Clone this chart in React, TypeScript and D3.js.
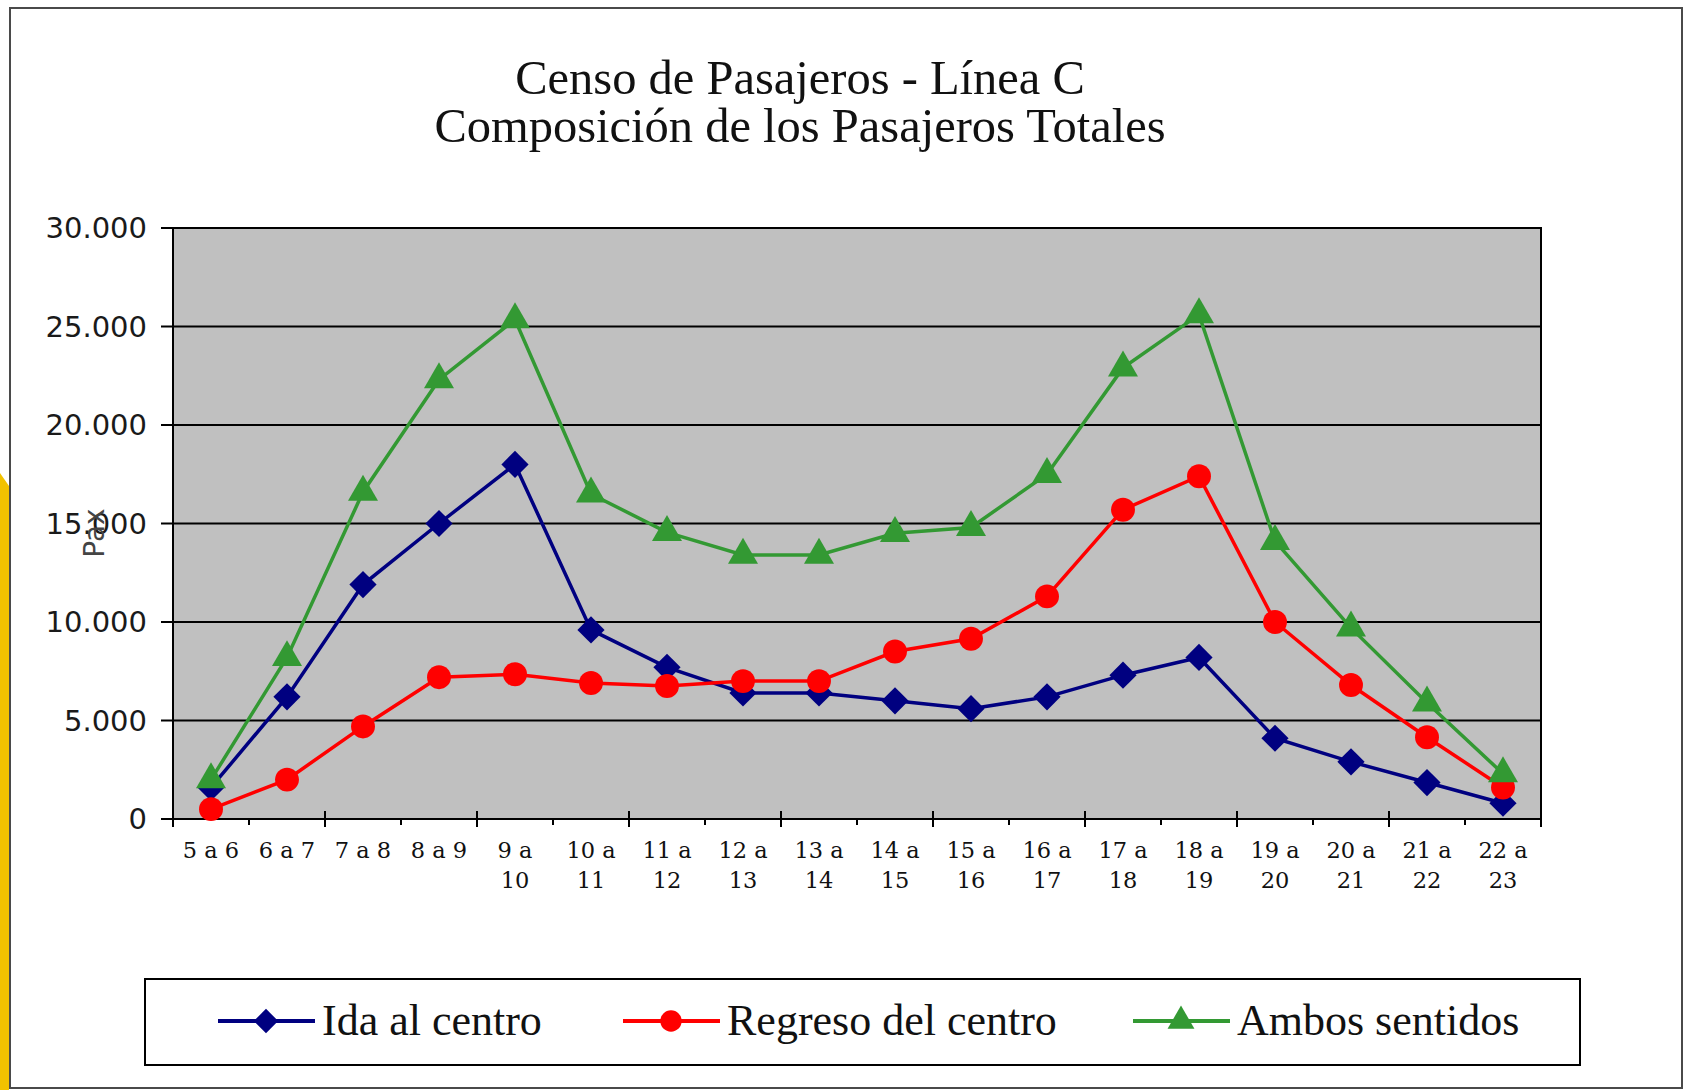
import { useRef, useEffect } from 'react'
import * as d3 from 'd3'

const titleLines = ['Censo de Pasajeros - Línea C', 'Composición de los Pasajeros Totales']

const categories = [
  '5 a 6', '6 a 7', '7 a 8', '8 a 9', '9 a 10', '10 a 11', '11 a 12', '12 a 13', '13 a 14',
  '14 a 15', '15 a 16', '16 a 17', '17 a 18', '18 a 19', '19 a 20', '20 a 21', '21 a 22', '22 a 23',
]

const idaAlCentro = [1600, 6200, 11900, 15000, 18000, 9600, 7700, 6400, 6400, 6000, 5600, 6200, 7300, 8200, 4100, 2900, 1850, 800]
const regresoDelCentro = [500, 2000, 4700, 7200, 7350, 6900, 6750, 7000, 7000, 8500, 9150, 11300, 15700, 17400, 10000, 6800, 4150, 1600]
const ambosSentidos = [2000, 8200, 16600, 22300, 25350, 16500, 14550, 13400, 13400, 14500, 14800, 17500, 22900, 25600, 14100, 9700, 5900, 2300]

const yTicks = [0, 5000, 10000, 15000, 20000, 25000, 30000]
const yLabel = 'Pax'

const series = [
  { name: 'Ida al centro', values: idaAlCentro, color: '#000080', symbol: d3.symbolSquare, size: 370, rotate: 45 },
  { name: 'Regreso del centro', values: regresoDelCentro, color: '#FF0000', symbol: d3.symbolCircle, size: 450, rotate: 0 },
  { name: 'Ambos sentidos', values: ambosSentidos, color: '#339933', symbol: d3.symbolTriangle, size: 390, rotate: 0 },
]

const W = 1684
const H = 1090
const plot = { left: 173, right: 1541, top: 228, bottom: 819 }

const fmt = d3.formatLocale({ decimal: ',', thousands: '.', grouping: [3], currency: ['', ''] }).format(',')

export default function App() {
  const svgRef = useRef(null)

  useEffect(() => {
    const svg = d3.select(svgRef.current)
    svg.selectAll('*').remove()

    // page frame + yellow strip on the left
    svg.append('rect').attr('width', W).attr('height', H).attr('fill', '#fff')
    svg.append('path').attr('d', `M0,473 L9,486 L9,${H} L0,${H} Z`).attr('fill', '#F2C200')
    svg.append('rect')
      .attr('x', 10).attr('y', 8).attr('width', 1672).attr('height', 1080)
      .attr('fill', 'none').attr('stroke', '#4a4a4a').attr('stroke-width', 2)

    // title
    svg.append('g')
      .selectAll('text')
      .data(titleLines)
      .join('text')
      .attr('x', 800)
      .attr('y', (_, i) => 94 + i * 48)
      .attr('text-anchor', 'middle')
      .attr('font-family', '"Liberation Serif", serif')
      .attr('font-size', 48.5)
      .attr('fill', '#111')
      .text((d) => d)

    const x = d3.scaleBand().domain(categories).range([plot.left, plot.right])
    const y = d3.scaleLinear().domain([0, 30000]).range([plot.bottom, plot.top])
    const cx = (c) => x(c) + x.bandwidth() / 2

    // plot background
    svg.append('rect')
      .attr('x', plot.left).attr('y', plot.top)
      .attr('width', plot.right - plot.left).attr('height', plot.bottom - plot.top)
      .attr('fill', '#C0C0C0')

    // gridlines + y ticks
    svg.append('g')
      .selectAll('line')
      .data(yTicks)
      .join('line')
      .attr('x1', plot.left - 12).attr('x2', plot.right)
      .attr('y1', (d) => y(d)).attr('y2', (d) => y(d))
      .attr('stroke', '#000').attr('stroke-width', 2)

    svg.append('g')
      .selectAll('text')
      .data(yTicks)
      .join('text')
      .attr('x', plot.left - 26)
      .attr('y', (d) => y(d) + 10)
      .attr('text-anchor', 'end')
      .attr('font-family', '"DejaVu Sans", sans-serif')
      .attr('font-size', 29)
      .attr('fill', '#1a1a1a')
      .text((d) => fmt(d))

    svg.append('text')
      .attr('transform', 'translate(104,533) rotate(-90)')
      .attr('text-anchor', 'middle')
      .attr('font-family', '"DejaVu Sans", sans-serif')
      .attr('font-size', 28)
      .attr('fill', '#444')
      .text(yLabel)

    // plot border
    svg.append('rect')
      .attr('x', plot.left).attr('y', plot.top)
      .attr('width', plot.right - plot.left).attr('height', plot.bottom - plot.top)
      .attr('fill', 'none').attr('stroke', '#000').attr('stroke-width', 2)

    // x ticks: boundaries, every second one crosses the axis
    const bounds = categories.map((c) => x(c)).concat([plot.right])
    svg.append('g')
      .selectAll('line')
      .data(bounds)
      .join('line')
      .attr('x1', (d) => d).attr('x2', (d) => d)
      .attr('y1', (_, i) => (i % 2 === 0 ? plot.bottom - 8 : plot.bottom))
      .attr('y2', (_, i) => (i % 2 === 0 ? plot.bottom + 8 : plot.bottom + 6))
      .attr('stroke', '#000').attr('stroke-width', 2)

    // x labels (long ones wrap after "a")
    const xl = svg.append('g')
      .selectAll('text')
      .data(categories)
      .join('text')
      .attr('text-anchor', 'middle')
      .attr('font-family', '"DejaVu Serif", serif')
      .attr('font-size', 22.5)
      .attr('fill', '#111')
    xl.selectAll('tspan')
      .data((d) => (d.length > 5 ? [d.slice(0, d.indexOf(' a') + 2), d.slice(d.indexOf(' a') + 3)] : [d]).map((t) => ({ t, c: d })))
      .join('tspan')
      .attr('x', (d) => cx(d.c))
      .attr('y', (_, i) => 858 + i * 30)
      .text((d) => d.t)

    // series
    const line = d3.line().x((_, i) => cx(categories[i])).y((d) => y(d))
    series.forEach((s) => {
      svg.append('path')
        .attr('d', line(s.values))
        .attr('fill', 'none')
        .attr('stroke', s.color)
        .attr('stroke-width', 3.5)
      svg.append('g')
        .selectAll('path')
        .data(s.values)
        .join('path')
        .attr('d', d3.symbol().type(s.symbol).size(s.size)())
        .attr('transform', (d, i) => `translate(${cx(categories[i])},${y(d)}) rotate(${s.rotate})`)
        .attr('fill', s.color)
    })

    // legend
    svg.append('rect')
      .attr('x', 145).attr('y', 979).attr('width', 1435).attr('height', 86)
      .attr('fill', '#fff').attr('stroke', '#000').attr('stroke-width', 2)
    const legendX = [218, 623, 1133]
    series.forEach((s, i) => {
      const lx = legendX[i]
      svg.append('line')
        .attr('x1', lx).attr('x2', lx + 97).attr('y1', 1021).attr('y2', 1021)
        .attr('stroke', s.color).attr('stroke-width', 4)
      svg.append('path')
        .attr('d', d3.symbol().type(s.symbol).size(s.size * 0.8)())
        .attr('transform', `translate(${lx + 48},1021) rotate(${s.rotate})`)
        .attr('fill', s.color)
      svg.append('text')
        .attr('x', lx + 104)
        .attr('y', 1035)
        .attr('font-family', '"Liberation Serif", serif')
        .attr('font-size', 44)
        .attr('fill', '#111')
        .text(s.name)
    })
  }, [])

  return <svg ref={svgRef} width={W} height={H} style={{ position: 'absolute', left: 0, top: 0 }} />
}
